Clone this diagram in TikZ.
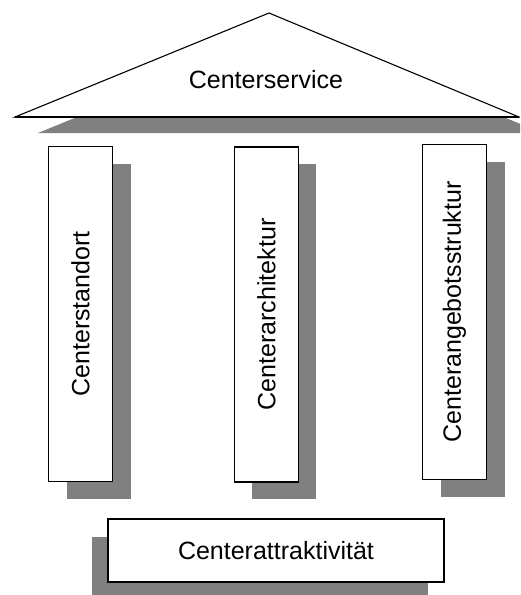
\documentclass[tikz,border=0pt]{standalone}
\usepackage{fontspec}
\setmainfont{Liberation Sans}
\usepackage{graphicx}
\definecolor{shgray}{RGB}{128,128,128}
\tikzset{
  lbl/.style={font=\fontsize{25}{28}\selectfont, inner sep=0pt},
  pillar/.style={draw=black, line width=1.6pt, fill=white, minimum width=64pt, minimum height=335pt, inner sep=0pt, font=\fontsize{25}{28}\selectfont},
  basebox/.style={draw=black, line width=1.6pt, fill=white, minimum width=336pt, minimum height=63pt, inner sep=0pt, font=\fontsize{25}{28}\selectfont},
  shadowbox/.style={fill=shgray, draw=none, minimum width=64pt, minimum height=335pt, inner sep=0pt},
  roofline/.style={draw=black, line width=1.1pt, fill=white, line join=miter}
}
\begin{document}
\begin{tikzpicture}[x=1pt, y=-1pt]
\path[use as bounding box, clip] (0,0) rectangle (520,595);
\fill[white] (0,0) rectangle (520,595);
% roof
\coordinate (rl) at (15,117);
\coordinate (rt) at (269,13);
\coordinate (rr) at (519,117);
\coordinate (sl) at (38,133);
\coordinate (st) at (292,29);
\coordinate (sr) at (542,133);
\fill[shgray] (sl) -- (st) -- (sr) -- cycle;
\path[roofline] (rl) -- (rt) -- (rr) -- cycle;
\draw[line width=1.8pt] (rl) -- (rr);
\node[lbl] (roof) at (266,80) {Centerservice};
% pillar shadows
\node[shadowbox] (s1) at (98.5,331) {};
\node[shadowbox] (s2) at (283.5,331.5) {};
\node[shadowbox] (s3) at (472.5,329) {};
% pillars
\node[pillar] (p1) at (80.5,314) {\rotatebox{90}{Centerstandort}};
\node[pillar] (p2) at (266.5,314.5) {\rotatebox{90}{Centerarchitektur}};
\node[pillar] (p3) at (454.5,312) {\rotatebox{90}{Centerangebotsstruktur}};
% base
\node[shadowbox, minimum width=336pt, minimum height=63pt] (s4) at (260,568.5) {};
\node[basebox] (base) at (276,550.5) {Centerattraktivität};
\end{tikzpicture}
\end{document}
